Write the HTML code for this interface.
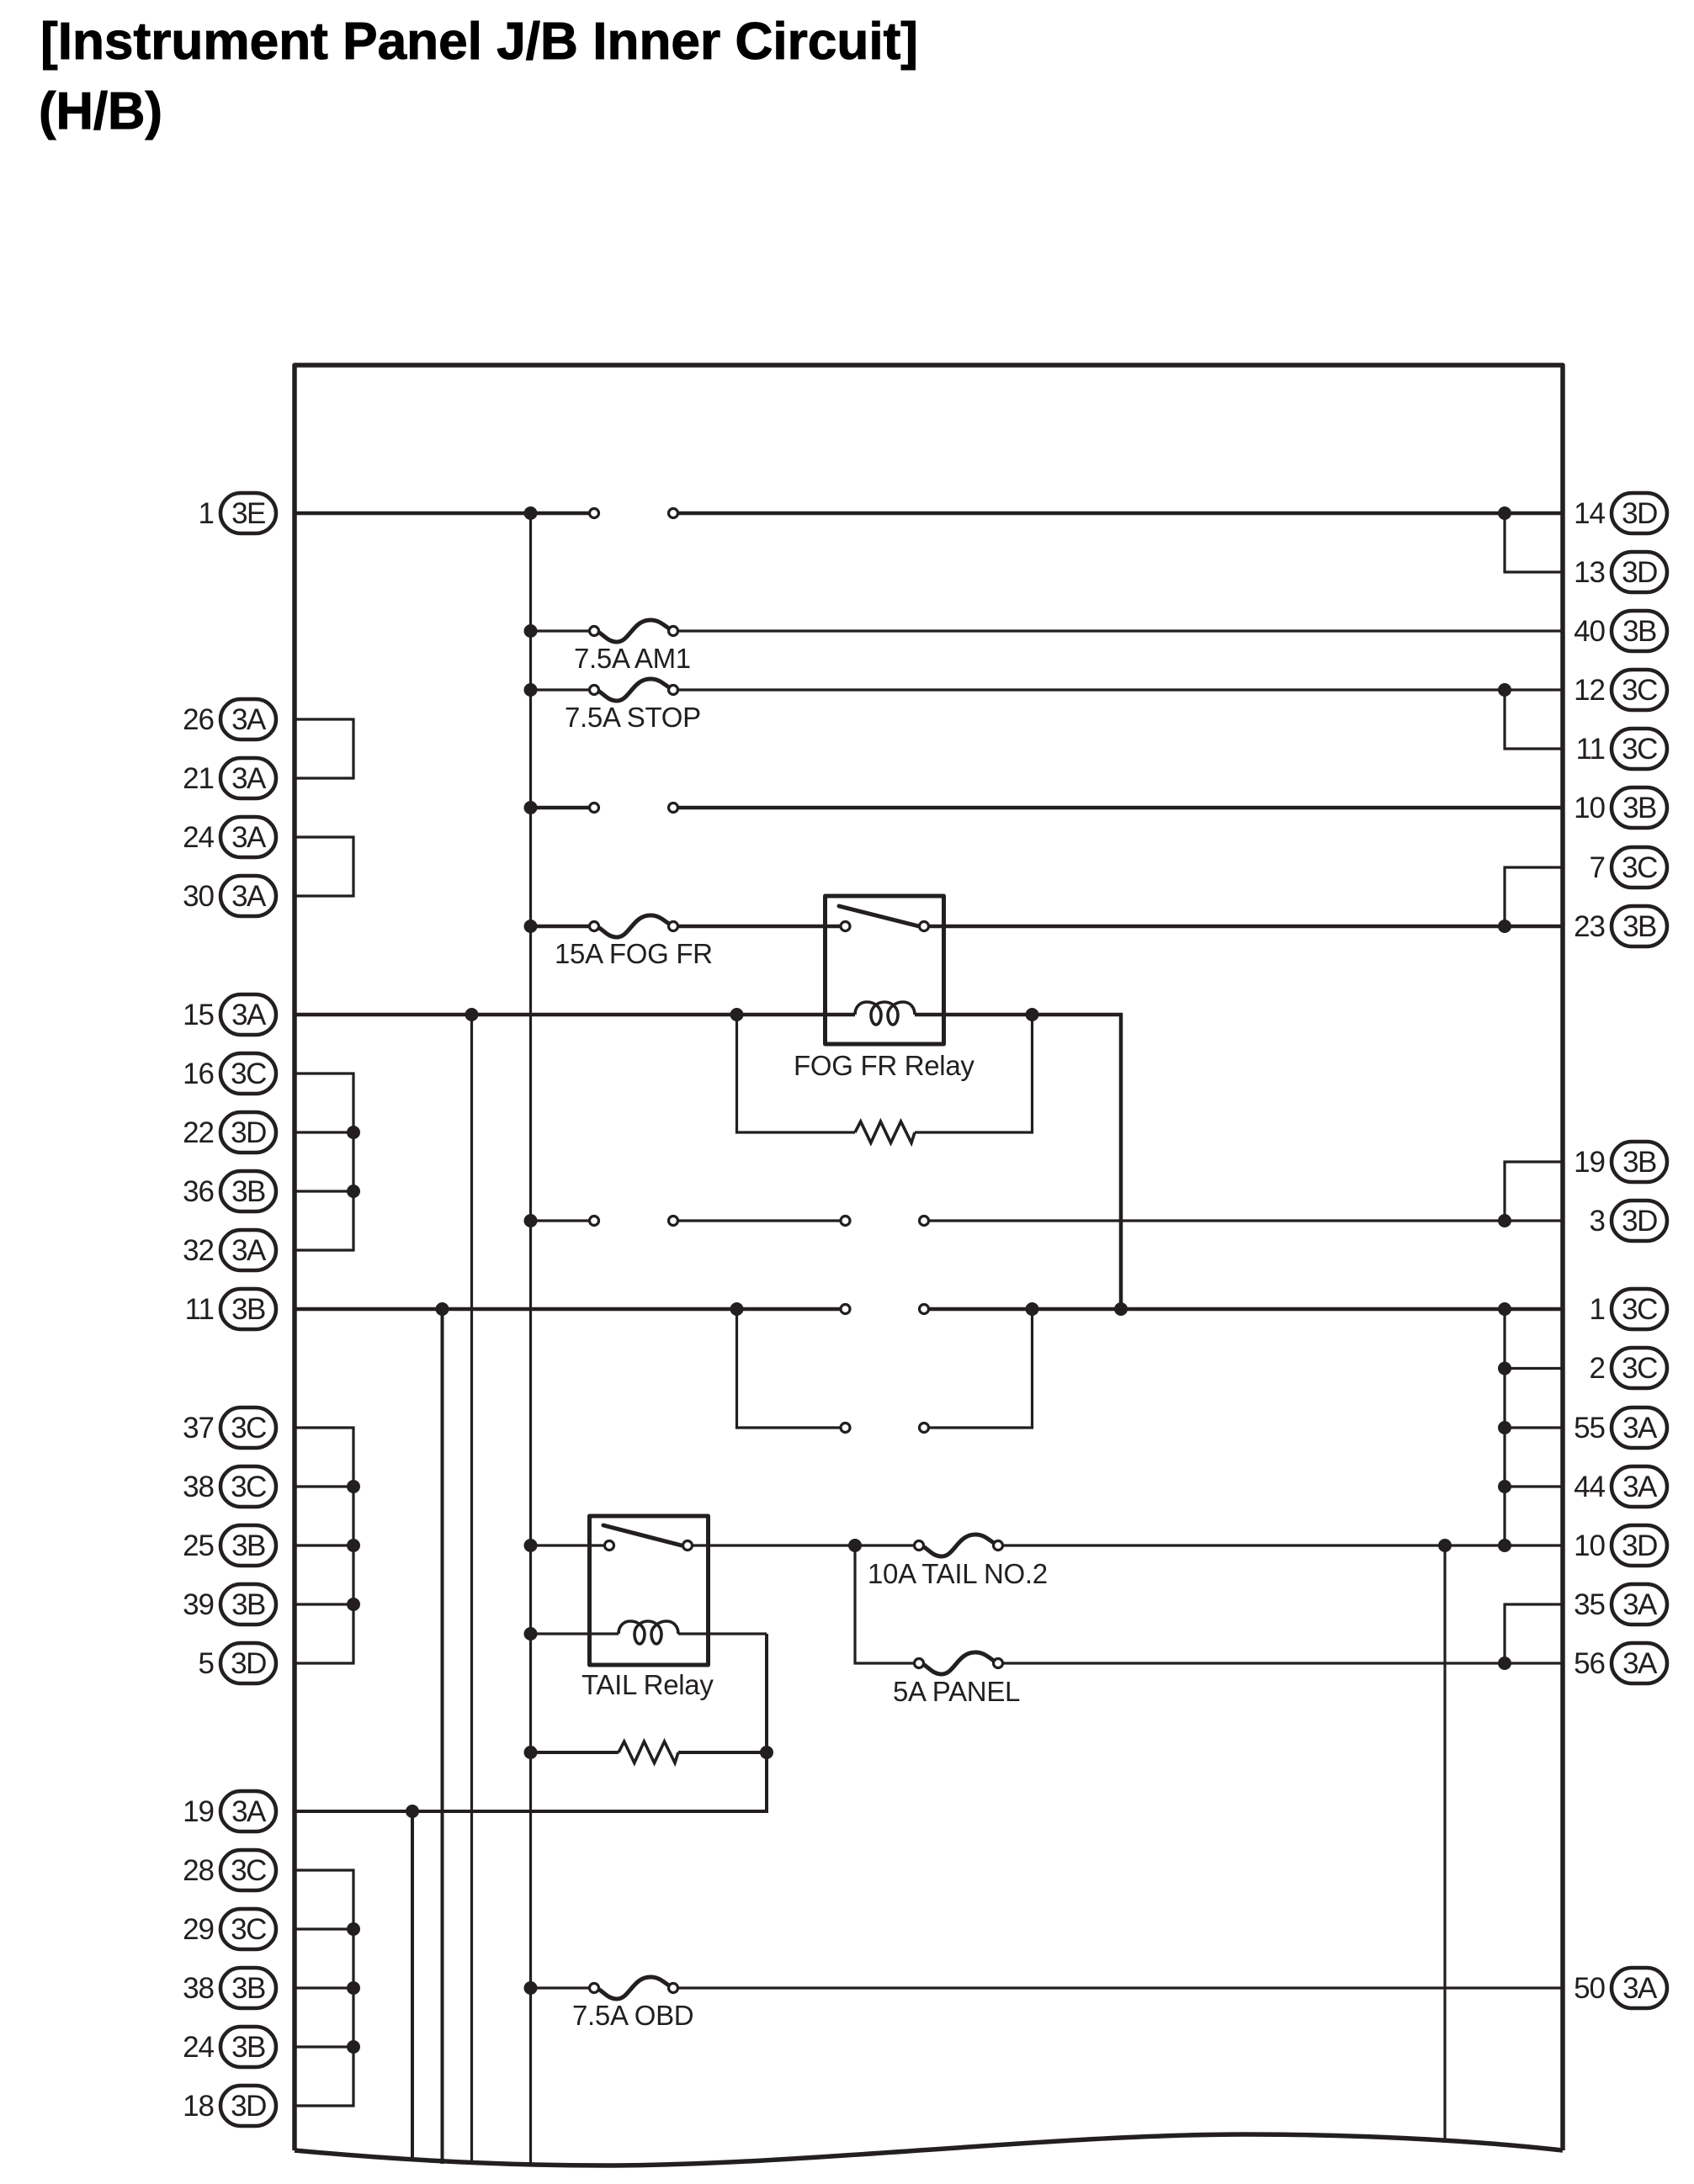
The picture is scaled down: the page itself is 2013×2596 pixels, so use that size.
<!DOCTYPE html>
<html><head><meta charset="utf-8"><title>Instrument Panel J/B Inner Circuit</title>
<style>
html,body{margin:0;padding:0;background:#fff}
svg{display:block}
text{font-family:"Liberation Sans",sans-serif;fill:#231f20}
.n{font-size:35px;text-anchor:end;letter-spacing:-1px}
.b{font-size:35px;text-anchor:middle;letter-spacing:-1.5px}
.l{font-size:33px;letter-spacing:-.3px}
.t{font-size:62px;font-weight:bold;fill:#000;stroke:#000;stroke-width:1px}
.w{fill:none;stroke:#231f20;stroke-width:3.2;stroke-linejoin:miter}
.m{fill:none;stroke:#231f20;stroke-width:4;stroke-linejoin:miter}
.k{fill:none;stroke:#231f20;stroke-width:4.5;stroke-linejoin:miter}
.fr{fill:none;stroke:#231f20;stroke-width:5.5;stroke-linejoin:round}
.rb{fill:none;stroke:#231f20;stroke-width:5;stroke-linejoin:round}
.arm{fill:none;stroke:#231f20;stroke-width:5;stroke-linecap:round}
.f{fill:none;stroke:#231f20;stroke-width:5}
.c{fill:none;stroke:#231f20;stroke-width:3.6}
.bd{fill:#fff;stroke:#231f20;stroke-width:4.5}
.d{fill:#231f20}
.o{fill:#fff;stroke:#231f20;stroke-width:3.2}
</style></head><body>
<svg width="2013" height="2596" viewBox="0 0 2013 2596" xmlns="http://www.w3.org/2000/svg">
<defs>
<path id="fuse" class="f" d="M0 0C9 0 14 13 27 13C42 13 46 -13 67 -13C79 -13 84 -5 94 0"/>
<path id="coil" class="c" d="M0 0C0 -9 6 -15 14 -15C24 -15 31 -8 31 0C31 7 28 12 25 12C22 12 19 7 19 0C19 -8 26 -15 35 -15C44 -15 51 -8 51 0C51 7 48 12 45 12C42 12 39 7 39 0C39 -8 48 -15 57 -15C65 -15 71 -9 71 0"/>
<path id="res" class="c" d="M0 0L6.7 -13L18.8 12.5L30.4 -13L42.500 12.5L54.5 -13L67 12.5L71 0"/>
</defs>

<text class="t" x="48" y="70" textLength="1043" lengthAdjust="spacingAndGlyphs">[Instrument Panel J/B Inner Circuit]</text>
<text class="t" x="46" y="153" textLength="147" lengthAdjust="spacingAndGlyphs">(H/B)</text>

<!-- frame -->
<path class="fr" d="M350 2556V434H1857V2556"/>
<path class="fr" d="M350 2556C500 2570 620 2574 720 2574C950 2574 1250 2537 1480 2537C1620 2537 1760 2545 1857 2556"/>

<!-- thick wires -->
<path class="k" d="M350 610H706M800 610H1857"/>
<path class="k" d="M630.5 960H706M800 960H1857"/>
<path class="k" d="M630.5 1101H706M800 1101H1004M1098 1101H1857"/>
<path class="k" d="M350 1206H1016M1087 1206H1332V1556"/>
<path class="k" d="M350 1556H1004M1098 1556H1857"/>
<path class="m" d="M630.5 2083H735M806 2083H911"/>
<path class="m" d="M350 2153H911V1942"/>

<!-- thin wires -->
<path class="w" d="M630.5 610V2574"/>
<path class="w" d="M630.5 750H706M800 750H1857"/>
<path class="w" d="M630.5 820H706M800 820H1857"/>
<path class="w" d="M1788 610V680H1857"/>
<path class="w" d="M1788 820V890H1857"/>
<path class="w" d="M1788 1101V1031H1857"/>
<path class="w" d="M350 855H420V925H350"/>
<path class="w" d="M350 995H420V1065H350"/>
<path class="w" d="M350 1276H420V1486H350M350 1346H420M350 1416H420"/>
<path class="w" d="M560.5 1206V2572"/>
<path class="w" d="M875.5 1206V1346H1016M1087 1346H1226.5V1206"/>
<path class="w" d="M630.5 1451H706M800 1451H1004M1098 1451H1857"/>
<path class="w" d="M1788 1451V1381H1857"/>
<path class="m" d="M525.5 1556V2572"/>
<path class="w" d="M875.5 1556V1697H1004M1098 1697H1226.5V1556"/>
<path class="w" d="M1788 1556V1837"/>
<path class="w" d="M1788 1626.500H1857M1788 1697H1857M1788 1767H1857"/>
<path class="w" d="M350 1697H420V1977H350M350 1767H420M350 1837H420M350 1907H420"/>
<path class="w" d="M630.5 1837H724M817 1837H1092M1186 1837H1857"/>
<path class="w" d="M1717 1837V2545"/>
<path class="w" d="M1016 1837V1977H1092M1186 1977H1857"/>
<path class="w" d="M1788 1977V1907H1857"/>
<path class="w" d="M630.500 1942H735M806 1942H911"/>
<path class="m" d="M490 2153V2568"/>
<path class="w" d="M350 2223H420V2503H350M350 2293H420M350 2363H420M350 2433H420"/>
<path class="w" d="M630.5 2363H706M800 2363H1857"/>

<!-- fuses -->
<use href="#fuse" x="706" y="750"/>
<use href="#fuse" x="706" y="820"/>
<use href="#fuse" x="706" y="1101"/>
<use href="#fuse" x="706" y="2363"/>
<use href="#fuse" x="1092" y="1837"/>
<use href="#fuse" x="1092" y="1977"/>

<!-- relays -->
<rect class="rb" x="980.5" y="1065" width="141" height="176"/>
<rect class="rb" x="700.500" y="1802" width="141" height="177"/>
<path class="arm" d="M997 1077L1092 1101M717 1813L810 1837"/>
<use href="#coil" x="1016" y="1206"/>
<use href="#coil" x="735" y="1942"/>
<use href="#res" x="1016" y="1346"/>
<use href="#res" x="735" y="2083"/>

<!-- junction dots -->
<g class="d">
<circle cx="630.5" cy="610" r="8"/><circle cx="630.5" cy="750" r="8"/><circle cx="630.5" cy="820" r="8"/><circle cx="630.5" cy="960" r="8"/><circle cx="630.5" cy="1101" r="8"/><circle cx="630.5" cy="1451" r="8"/><circle cx="630.5" cy="1837" r="8"/><circle cx="630.5" cy="1942" r="8"/><circle cx="630.5" cy="2083" r="8"/><circle cx="630.5" cy="2363" r="8"/>
<circle cx="1788" cy="610" r="8"/><circle cx="1788" cy="820" r="8"/><circle cx="1788" cy="1101" r="8"/><circle cx="1788" cy="1451" r="8"/><circle cx="1788" cy="1556" r="8"/><circle cx="1788" cy="1626.5" r="8"/><circle cx="1788" cy="1697" r="8"/><circle cx="1788" cy="1767" r="8"/><circle cx="1788" cy="1837" r="8"/><circle cx="1788" cy="1977" r="8"/>
<circle cx="560.5" cy="1206" r="8"/><circle cx="875.5" cy="1206" r="8"/><circle cx="1226.5" cy="1206" r="8"/>
<circle cx="525.5" cy="1556" r="8"/><circle cx="875.5" cy="1556" r="8"/><circle cx="1226.5" cy="1556" r="8"/><circle cx="1332" cy="1556" r="8"/>
<circle cx="1016" cy="1837" r="8"/><circle cx="1717" cy="1837" r="8"/><circle cx="911" cy="2083" r="8"/><circle cx="490" cy="2153" r="8"/>
<circle cx="420" cy="1346" r="8"/><circle cx="420" cy="1416" r="8"/>
<circle cx="420" cy="1767" r="8"/><circle cx="420" cy="1837" r="8"/><circle cx="420" cy="1907" r="8"/>
<circle cx="420" cy="2293" r="8"/><circle cx="420" cy="2363" r="8"/><circle cx="420" cy="2433" r="8"/>
</g>

<!-- open terminals -->
<g class="o">
<circle cx="706" cy="610" r="5.5"/><circle cx="800" cy="610" r="5.5"/>
<circle cx="706" cy="750" r="5.5"/><circle cx="800" cy="750" r="5.5"/>
<circle cx="706" cy="820" r="5.5"/><circle cx="800" cy="820" r="5.5"/>
<circle cx="706" cy="960" r="5.5"/><circle cx="800" cy="960" r="5.5"/>
<circle cx="706" cy="1101" r="5.5"/><circle cx="800" cy="1101" r="5.5"/>
<circle cx="1004.5" cy="1101" r="5.5"/><circle cx="1098" cy="1101" r="5.5"/>
<circle cx="706" cy="1451" r="5.5"/><circle cx="800" cy="1451" r="5.5"/>
<circle cx="1004.5" cy="1451" r="5.5"/><circle cx="1098" cy="1451" r="5.5"/>
<circle cx="1004.5" cy="1556" r="5.5"/><circle cx="1098" cy="1556" r="5.5"/>
<circle cx="1004.5" cy="1697" r="5.5"/><circle cx="1098" cy="1697" r="5.5"/>
<circle cx="724" cy="1837" r="5.5"/><circle cx="817" cy="1837" r="5.5"/>
<circle cx="1092" cy="1837" r="5.5"/><circle cx="1186" cy="1837" r="5.5"/>
<circle cx="1092" cy="1977" r="5.5"/><circle cx="1186" cy="1977" r="5.5"/>
<circle cx="706" cy="2363" r="5.5"/><circle cx="800" cy="2363" r="5.5"/>
</g>

<!-- component labels -->
<text class="l" x="682" y="794">7.5A AM1</text>
<text class="l" x="671" y="864">7.5A STOP</text>
<text class="l" x="659" y="1145">15A FOG FR</text>
<text class="l" x="943" y="1278">FOG FR Relay</text>
<text class="l" x="691" y="2014">TAIL Relay</text>
<text class="l" x="1031" y="1882">10A TAIL NO.2</text>
<text class="l" x="1061" y="2022">5A PANEL</text>
<text class="l" x="680" y="2407">7.5A OBD</text>

<!-- left pins -->
<g id="lp">
<rect class="bd" x="262" y="586" width="66" height="48" rx="24"/><text class="b" x="295" y="622">3E</text><text class="n" x="254" y="622">1</text>
<rect class="bd" x="262" y="831" width="66" height="48" rx="24"/><text class="b" x="295" y="867">3A</text><text class="n" x="254" y="867">26</text>
<rect class="bd" x="262" y="901" width="66" height="48" rx="24"/><text class="b" x="295" y="937">3A</text><text class="n" x="254" y="937">21</text>
<rect class="bd" x="262" y="971" width="66" height="48" rx="24"/><text class="b" x="295" y="1007">3A</text><text class="n" x="254" y="1007">24</text>
<rect class="bd" x="262" y="1041" width="66" height="48" rx="24"/><text class="b" x="295" y="1077">3A</text><text class="n" x="254" y="1077">30</text>
<rect class="bd" x="262" y="1182" width="66" height="48" rx="24"/><text class="b" x="295" y="1218">3A</text><text class="n" x="254" y="1218">15</text>
<rect class="bd" x="262" y="1252" width="66" height="48" rx="24"/><text class="b" x="295" y="1288">3C</text><text class="n" x="254" y="1288">16</text>
<rect class="bd" x="262" y="1322" width="66" height="48" rx="24"/><text class="b" x="295" y="1358">3D</text><text class="n" x="254" y="1358">22</text>
<rect class="bd" x="262" y="1392" width="66" height="48" rx="24"/><text class="b" x="295" y="1428">3B</text><text class="n" x="254" y="1428">36</text>
<rect class="bd" x="262" y="1462" width="66" height="48" rx="24"/><text class="b" x="295" y="1498">3A</text><text class="n" x="254" y="1498">32</text>
<rect class="bd" x="262" y="1532" width="66" height="48" rx="24"/><text class="b" x="295" y="1568">3B</text><text class="n" x="254" y="1568">11</text>
<rect class="bd" x="262" y="1673" width="66" height="48" rx="24"/><text class="b" x="295" y="1709">3C</text><text class="n" x="254" y="1709">37</text>
<rect class="bd" x="262" y="1743" width="66" height="48" rx="24"/><text class="b" x="295" y="1779">3C</text><text class="n" x="254" y="1779">38</text>
<rect class="bd" x="262" y="1813" width="66" height="48" rx="24"/><text class="b" x="295" y="1849">3B</text><text class="n" x="254" y="1849">25</text>
<rect class="bd" x="262" y="1883" width="66" height="48" rx="24"/><text class="b" x="295" y="1919">3B</text><text class="n" x="254" y="1919">39</text>
<rect class="bd" x="262" y="1953" width="66" height="48" rx="24"/><text class="b" x="295" y="1989">3D</text><text class="n" x="254" y="1989">5</text>
<rect class="bd" x="262" y="2129" width="66" height="48" rx="24"/><text class="b" x="295" y="2165">3A</text><text class="n" x="254" y="2165">19</text>
<rect class="bd" x="262" y="2199" width="66" height="48" rx="24"/><text class="b" x="295" y="2235">3C</text><text class="n" x="254" y="2235">28</text>
<rect class="bd" x="262" y="2269" width="66" height="48" rx="24"/><text class="b" x="295" y="2305">3C</text><text class="n" x="254" y="2305">29</text>
<rect class="bd" x="262" y="2339" width="66" height="48" rx="24"/><text class="b" x="295" y="2375">3B</text><text class="n" x="254" y="2375">38</text>
<rect class="bd" x="262" y="2409" width="66" height="48" rx="24"/><text class="b" x="295" y="2445">3B</text><text class="n" x="254" y="2445">24</text>
<rect class="bd" x="262" y="2479" width="66" height="48" rx="24"/><text class="b" x="295" y="2515">3D</text><text class="n" x="254" y="2515">18</text>
</g>

<!-- right pins -->
<g id="rp">
<rect class="bd" x="1915" y="586" width="66" height="48" rx="24"/><text class="b" x="1948" y="622">3D</text><text class="n" x="1907" y="622">14</text>
<rect class="bd" x="1915" y="656" width="66" height="48" rx="24"/><text class="b" x="1948" y="692">3D</text><text class="n" x="1907" y="692">13</text>
<rect class="bd" x="1915" y="726" width="66" height="48" rx="24"/><text class="b" x="1948" y="762">3B</text><text class="n" x="1907" y="762">40</text>
<rect class="bd" x="1915" y="796" width="66" height="48" rx="24"/><text class="b" x="1948" y="832">3C</text><text class="n" x="1907" y="832">12</text>
<rect class="bd" x="1915" y="866" width="66" height="48" rx="24"/><text class="b" x="1948" y="902">3C</text><text class="n" x="1907" y="902">11</text>
<rect class="bd" x="1915" y="936" width="66" height="48" rx="24"/><text class="b" x="1948" y="972">3B</text><text class="n" x="1907" y="972">10</text>
<rect class="bd" x="1915" y="1007" width="66" height="48" rx="24"/><text class="b" x="1948" y="1043">3C</text><text class="n" x="1907" y="1043">7</text>
<rect class="bd" x="1915" y="1077" width="66" height="48" rx="24"/><text class="b" x="1948" y="1113">3B</text><text class="n" x="1907" y="1113">23</text>
<rect class="bd" x="1915" y="1357" width="66" height="48" rx="24"/><text class="b" x="1948" y="1393">3B</text><text class="n" x="1907" y="1393">19</text>
<rect class="bd" x="1915" y="1427" width="66" height="48" rx="24"/><text class="b" x="1948" y="1463">3D</text><text class="n" x="1907" y="1463">3</text>
<rect class="bd" x="1915" y="1532" width="66" height="48" rx="24"/><text class="b" x="1948" y="1568">3C</text><text class="n" x="1907" y="1568">1</text>
<rect class="bd" x="1915" y="1602" width="66" height="48" rx="24"/><text class="b" x="1948" y="1638">3C</text><text class="n" x="1907" y="1638">2</text>
<rect class="bd" x="1915" y="1673" width="66" height="48" rx="24"/><text class="b" x="1948" y="1709">3A</text><text class="n" x="1907" y="1709">55</text>
<rect class="bd" x="1915" y="1743" width="66" height="48" rx="24"/><text class="b" x="1948" y="1779">3A</text><text class="n" x="1907" y="1779">44</text>
<rect class="bd" x="1915" y="1813" width="66" height="48" rx="24"/><text class="b" x="1948" y="1849">3D</text><text class="n" x="1907" y="1849">10</text>
<rect class="bd" x="1915" y="1883" width="66" height="48" rx="24"/><text class="b" x="1948" y="1919">3A</text><text class="n" x="1907" y="1919">35</text>
<rect class="bd" x="1915" y="1953" width="66" height="48" rx="24"/><text class="b" x="1948" y="1989">3A</text><text class="n" x="1907" y="1989">56</text>
<rect class="bd" x="1915" y="2339" width="66" height="48" rx="24"/><text class="b" x="1948" y="2375">3A</text><text class="n" x="1907" y="2375">50</text>
</g>
</svg>
</body></html>
